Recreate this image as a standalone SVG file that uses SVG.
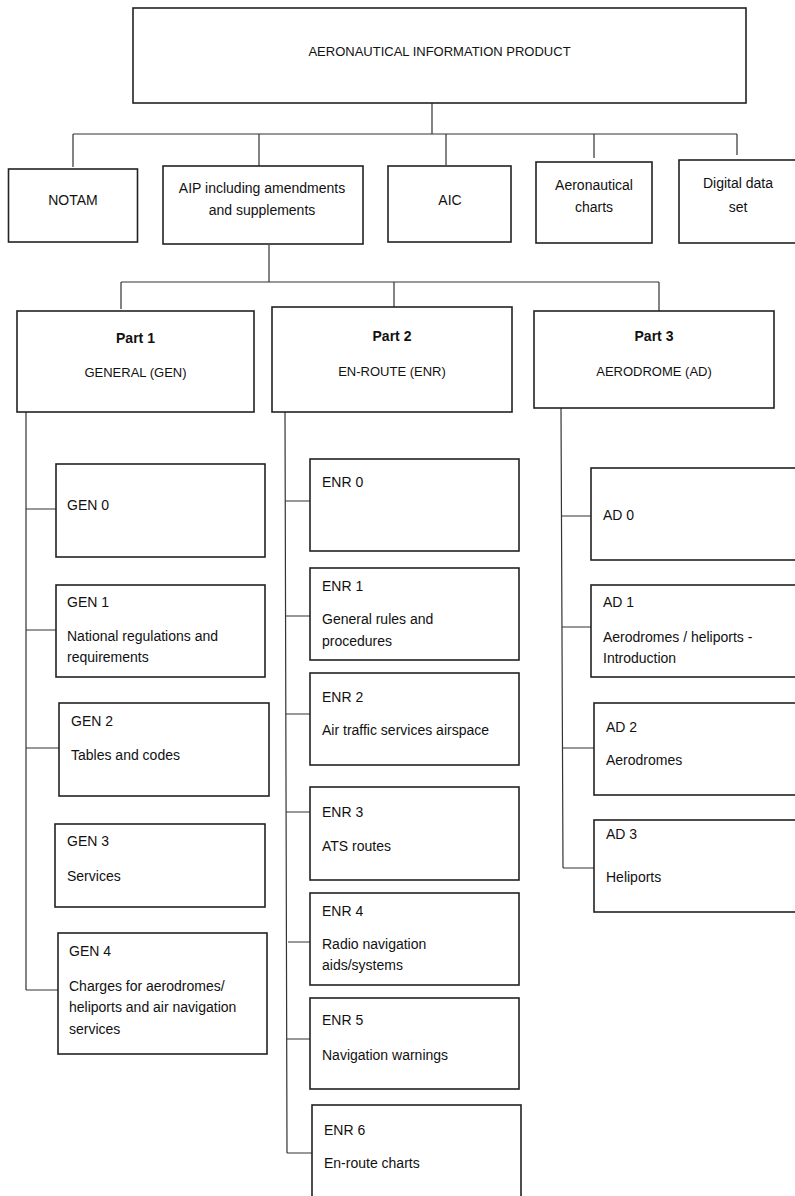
<svg xmlns="http://www.w3.org/2000/svg" width="795" height="1196" viewBox="0 0 795 1196">
<style>
.box{fill:#fff;stroke:#222;stroke-width:1.6}
.c{fill:none;stroke:#333;stroke-width:1.2}
text{font-family:"Liberation Sans",Arial,sans-serif;font-size:14px;fill:#111}
.cap{font-size:13px}
.m{text-anchor:middle}
.b{font-weight:bold}
</style>
<rect width="795" height="1196" fill="#fff"/>
<g id="connectors">
<path class="c" d="M432 103V134M73 134H737M73 134V167M259 134V166M446 134V165M594 134V158M737 134V155"/>
<path class="c" d="M269 245V282M121 282H659M121 282V309M394 282V307M659 282V311"/>
<path class="c" d="M26 412V990M26 509H56M26 630H56M26 748H59M26 990H58"/>
<path class="c" d="M285 412L287 1153M285 501H310M286 616H310M286 714H310M286 812H310M288 942H310M287 1039H310M287 1153H312"/>
<path class="c" d="M561 408L563 868M561 516H591M562 627H591M562 748H594M563 868H594"/>
</g>
<g id="n-aip-product"><rect class="box" x="133" y="8" width="613" height="95"/><text class="cap m" x="439.5" y="56">AERONAUTICAL INFORMATION PRODUCT</text></g>
<g id="n-notam"><rect class="box" x="8.5" y="169" width="129" height="73"/><text class="m" x="73" y="205">NOTAM</text></g>
<g id="n-aip"><rect class="box" x="163" y="166" width="200" height="78"/><text class="m" x="262" y="193">AIP including amendments</text><text class="m" x="262" y="215">and supplements</text></g>
<g id="n-aic"><rect class="box" x="388" y="166" width="123" height="76"/><text class="m" x="450" y="205">AIC</text></g>
<g id="n-charts"><rect class="box" x="536" y="162" width="116" height="81"/><text class="m" x="594" y="190">Aeronautical</text><text class="m" x="594" y="212">charts</text></g>
<g id="n-digital"><rect class="box" x="679" y="160" width="130" height="83"/><text class="m" x="738" y="188">Digital data</text><text class="m" x="738" y="212">set</text></g>
<g id="n-part1"><rect class="box" x="17" y="311" width="237" height="101"/><text class="m b" x="135.5" y="343">Part 1</text><text class="cap m" x="135.5" y="377">GENERAL (GEN)</text></g>
<g id="n-part2"><rect class="box" x="272" y="307" width="240" height="105"/><text class="m b" x="392" y="341">Part 2</text><text class="cap m" x="392" y="376">EN-ROUTE (ENR)</text></g>
<g id="n-part3"><rect class="box" x="534" y="311" width="240" height="97"/><text class="m b" x="654" y="341">Part 3</text><text class="cap m" x="654" y="376">AERODROME (AD)</text></g>
<g id="n-gen0"><rect class="box" x="56" y="464" width="209" height="93"/><text x="67" y="510">GEN 0</text></g>
<g id="n-gen1"><rect class="box" x="56" y="585" width="209" height="92"/><text x="67" y="607">GEN 1</text><text x="67" y="641">National regulations and</text><text x="67" y="662">requirements</text></g>
<g id="n-gen2"><rect class="box" x="59" y="703" width="210" height="93"/><text x="71" y="726">GEN 2</text><text x="71" y="760">Tables and codes</text></g>
<g id="n-gen3"><rect class="box" x="55" y="824" width="210" height="83"/><text x="67" y="846">GEN 3</text><text x="67" y="881">Services</text></g>
<g id="n-gen4"><rect class="box" x="58" y="933" width="209" height="121"/><text x="69" y="956">GEN 4</text><text x="69" y="991">Charges for aerodromes/</text><text x="69" y="1012">heliports and air navigation</text><text x="69" y="1034">services</text></g>
<g id="n-enr0"><rect class="box" x="310" y="459" width="209" height="92"/><text x="322" y="487">ENR 0</text></g>
<g id="n-enr1"><rect class="box" x="310" y="568" width="209" height="92"/><text x="322" y="591">ENR 1</text><text x="322" y="624">General rules and</text><text x="322" y="646">procedures</text></g>
<g id="n-enr2"><rect class="box" x="310" y="673" width="209" height="92"/><text x="322" y="702">ENR 2</text><text x="322" y="735">Air traffic services airspace</text></g>
<g id="n-enr3"><rect class="box" x="310" y="787" width="209" height="93"/><text x="322" y="817">ENR 3</text><text x="322" y="851">ATS routes</text></g>
<g id="n-enr4"><rect class="box" x="310" y="893" width="209" height="92"/><text x="322" y="916">ENR 4</text><text x="322" y="949">Radio navigation</text><text x="322" y="970">aids/systems</text></g>
<g id="n-enr5"><rect class="box" x="310" y="998" width="209" height="91"/><text x="322" y="1025">ENR 5</text><text x="322" y="1060">Navigation warnings</text></g>
<g id="n-enr6"><rect class="box" x="312" y="1105" width="209" height="100"/><text x="324" y="1135">ENR 6</text><text x="324" y="1168">En-route charts</text></g>
<g id="n-ad0"><rect class="box" x="591" y="468" width="220" height="92"/><text x="603" y="520">AD 0</text></g>
<g id="n-ad1"><rect class="box" x="591" y="585" width="220" height="92"/><text x="603" y="607">AD 1</text><text x="603" y="642">Aerodromes / heliports -</text><text x="603" y="663">Introduction</text></g>
<g id="n-ad2"><rect class="box" x="594" y="703" width="220" height="92"/><text x="606" y="732">AD 2</text><text x="606" y="765">Aerodromes</text></g>
<g id="n-ad3"><rect class="box" x="594" y="820" width="220" height="92"/><text x="606" y="839">AD 3</text><text x="606" y="882">Heliports</text></g>
</svg>
